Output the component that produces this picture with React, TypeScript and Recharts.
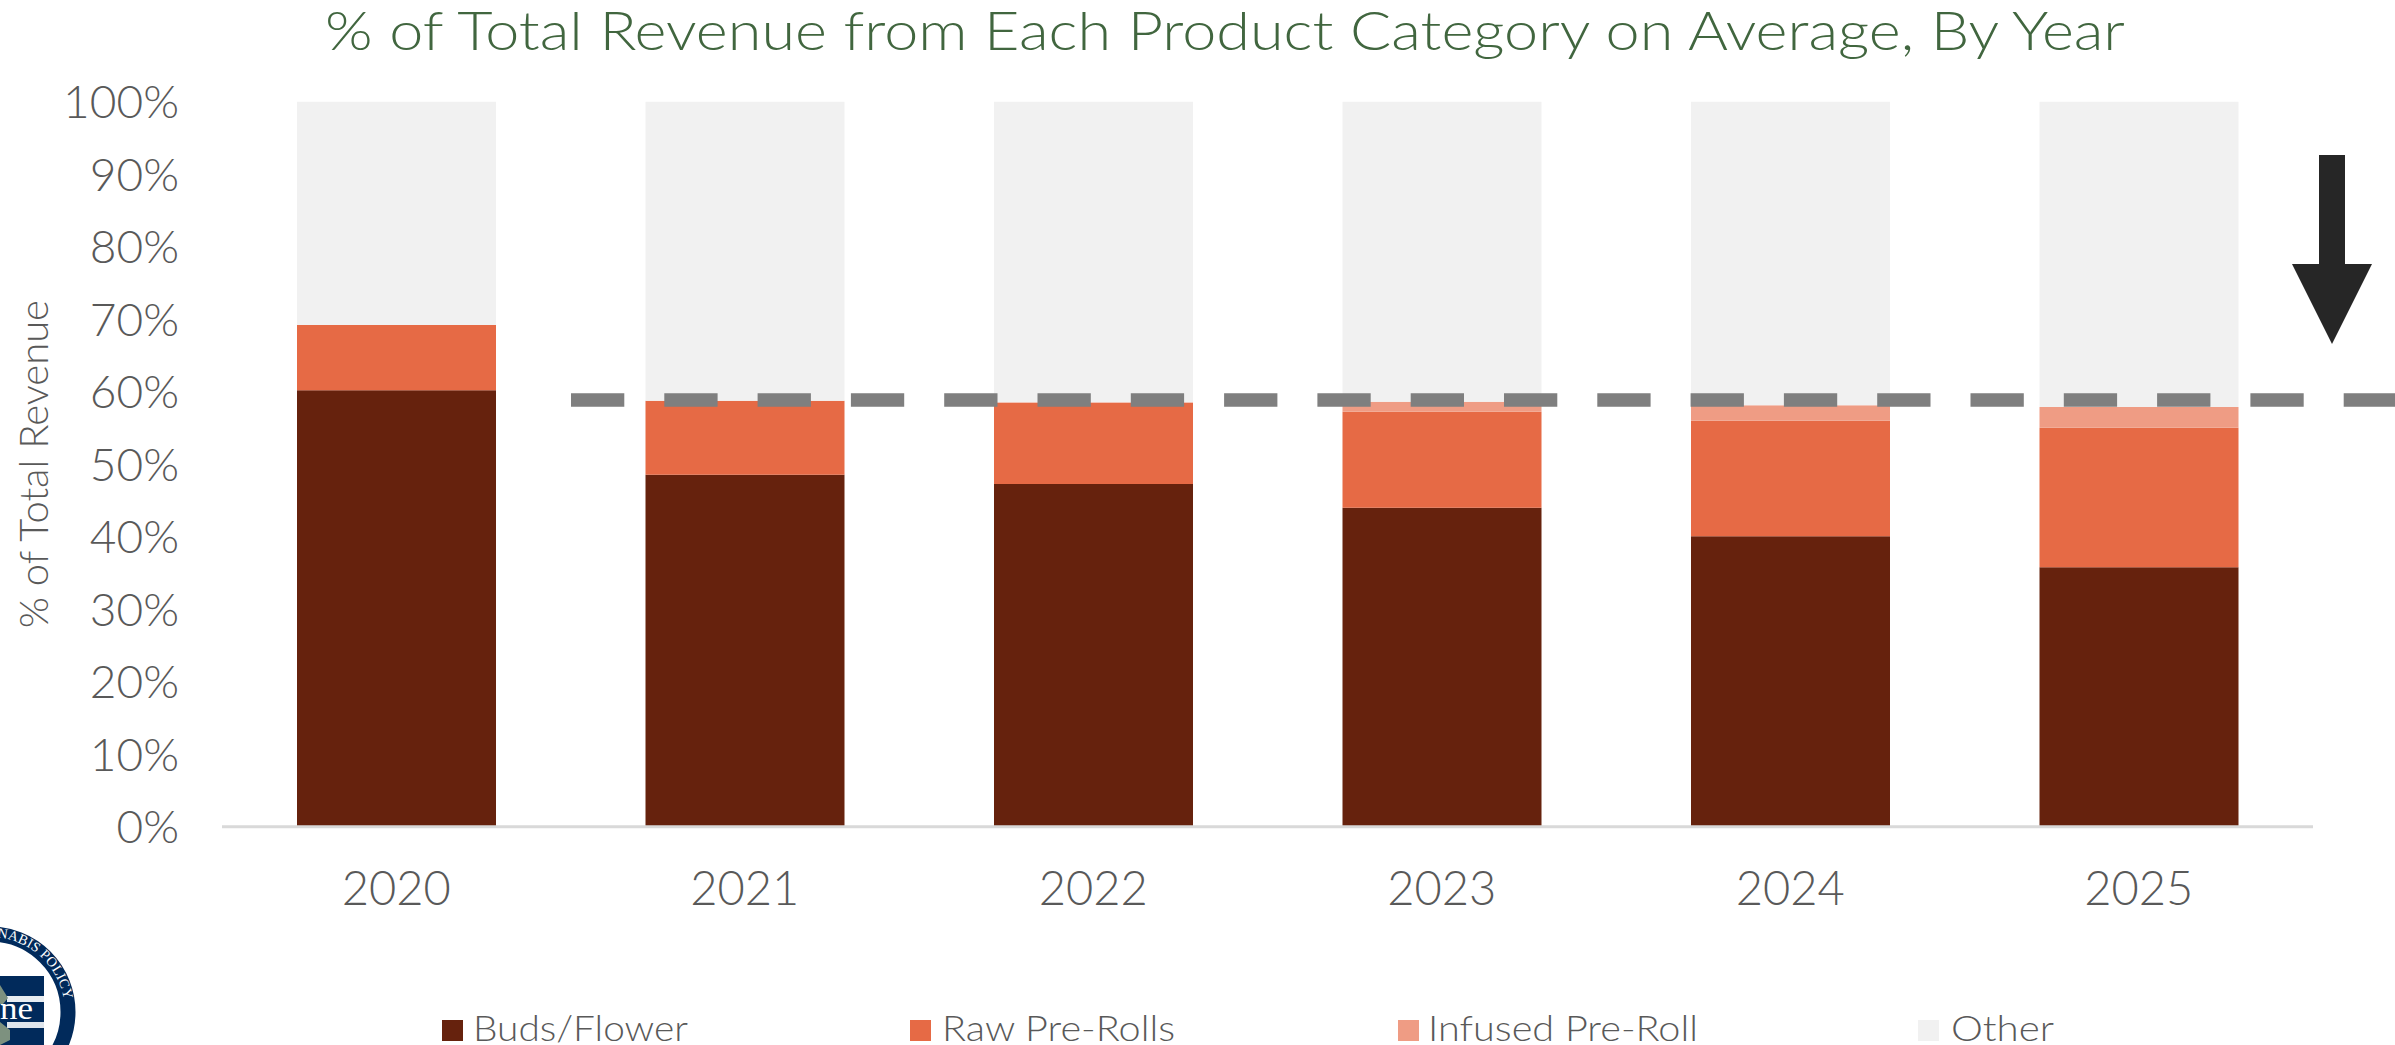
import React from "react";
import { BarChart, Bar, XAxis, YAxis, Legend, ReferenceLine } from "recharts";

const years = ["2020", "2021", "2022", "2023", "2024", "2025"];
const buds = [60.2, 48.55, 47.27, 44.0, 40.05, 35.78];
const rawPreRolls = [9.0, 10.21, 11.17, 13.24, 15.95, 19.25];
const infused = [0, 0, 0.1, 1.38, 2.12, 2.86];
const yTicks = [0, 10, 20, 30, 40, 50, 60, 70, 80, 90, 100];
const thresholdValue = 58.86;

const data = years.map((year, i) => ({
  year,
  buds: buds[i],
  raw: rawPreRolls[i],
  infused: infused[i],
  other: +(100 - buds[i] - rawPreRolls[i] - infused[i]).toFixed(2),
}));

const FONT = "Lato, 'Open Sans', sans-serif";
const TEXT = "#595959";

const legendPos: Record<string, { sq: number; txt: number; w: number }> = {
  "Buds/Flower": { sq: 442, txt: 473, w: 215 },
  "Raw Pre-Rolls": { sq: 910, txt: 942, w: 233 },
  "Infused Pre-Roll": { sq: 1398, txt: 1428, w: 270 },
  Other: { sq: 1918, txt: 1951, w: 103 },
};

const LegendContent = (props: any) => (
  <svg width={2395} height={1045} style={{ display: "block" }}>
    {(props.payload || []).map((p: any) => {
      const pos = legendPos[p.value];
      return (
        <g key={p.value}>
          <rect x={pos.sq} y={1020} width={21} height={21} fill={p.color} />
          <text
            x={pos.txt}
            y={1041}
            fontFamily={FONT}
            fontWeight={300}
            fontSize={36}
            fill={TEXT}
            textLength={pos.w}
            lengthAdjust="spacingAndGlyphs"
          >
            {p.value}
          </text>
        </g>
      );
    })}
  </svg>
);

const DashShape = (props: any) => (
  <line
    x1={571}
    x2={2395}
    y1={props.y1}
    y2={props.y2}
    stroke="#7f7f7f"
    strokeWidth={13.4}
    strokeDasharray="53.3 40"
  />
);

const Overlay = () => (
  <svg
    width={2395}
    height={1045}
    style={{ position: "absolute", left: 0, top: 0, pointerEvents: "none" }}
  >
    <text
      x={325}
      y={50}
      fontFamily={FONT}
      fontWeight={300}
      fontSize={54}
      fill="#41663f"
      textLength={1800}
      lengthAdjust="spacingAndGlyphs"
    >
      % of Total Revenue from Each Product Category on Average, By Year
    </text>
    <polygon
      points="2319,155 2345,155 2345,264 2372,264 2332,344 2292,264 2319,264"
      fill="#262626"
    />
    <defs>
      <path id="ringPath" d="M -85 1012 A 75 75 0 0 1 65 1012" />
    </defs>
    <circle cx={-10} cy={1012} r={78} fill="none" stroke="#012a5b" strokeWidth={15} />
    <rect x={0} y={976} width={44} height={69} fill="#012a5b" />
    <rect x={7} y={996} width={37} height={6} fill="#e8edf2" />
    <rect x={7} y={1022} width={37} height={6} fill="#dfe5ec" />
    <path d="M0 985 L8 998 L3 1004 L0 1004 Z" fill="#7d917f" />
    <path d="M0 1022 L10 1030 L10 1040 L0 1045 Z" fill="#7d917f" />
    <text
      x={0}
      y={1019}
      fontFamily="'Liberation Serif', serif"
      fontSize={31}
      fill="#ffffff"
      textLength={33}
      lengthAdjust="spacingAndGlyphs"
    >
      ne
    </text>
    <text fontFamily="'Liberation Serif', serif" fontSize={14} fill="#ffffff">
      <textPath href="#ringPath" startOffset="53%" textLength={98} lengthAdjust="spacing">
        NABIS POLICY
      </textPath>
    </text>
  </svg>
);

export default function App() {
  return (
    <div style={{ position: "absolute", left: 0, top: 0, width: 2395, height: 1045, overflow: "hidden", background: "#fff" }}>
      <BarChart
        width={2395}
        height={1045}
        data={data}
        barSize={199}
        margin={{ top: 101.7, right: 82, bottom: 158.3, left: 0 }}
      >
        <XAxis
          dataKey="year"
          axisLine={{ stroke: "#d9d9d9", strokeWidth: 3 }}
          tickLine={false}
          tickSize={0}
          tickMargin={45}
          height={60}
          interval={0}
          tick={{ fontFamily: FONT, fontWeight: 300, fontSize: 47, fill: TEXT }}
        />
        <YAxis
          width={222}
          domain={[0, 100]}
          ticks={yTicks}
          interval={0}
          axisLine={false}
          tickLine={false}
          tickSize={0}
          tickMargin={43}
          tickFormatter={(v: number) => `${v}%`}
          tick={{ fontFamily: FONT, fontWeight: 300, fontSize: 46, fill: TEXT }}
          label={{
            value: "% of Total Revenue",
            angle: -90,
            position: "insideLeft",
            offset: 34,
            style: { fontFamily: FONT, fontWeight: 300, fontSize: 40, fill: TEXT, textAnchor: "middle" },
          }}
        />
        <Legend
          layout="horizontal"
          verticalAlign="middle"
          align="center"
          itemSorter={null}
          wrapperStyle={{ position: "absolute", left: 0, top: 0, width: 2395, height: 1045, pointerEvents: "none" }}
          content={LegendContent}
        />
        <Bar dataKey="buds" name="Buds/Flower" stackId="a" fill="#66220d" isAnimationActive={false} />
        <Bar dataKey="raw" name="Raw Pre-Rolls" stackId="a" fill="#e66a45" isAnimationActive={false} />
        <Bar dataKey="infused" name="Infused Pre-Roll" stackId="a" fill="#ef9c84" isAnimationActive={false} />
        <Bar dataKey="other" name="Other" stackId="a" fill="#f1f1f1" isAnimationActive={false} />
        <ReferenceLine y={thresholdValue} ifOverflow="visible" shape={DashShape} />
      </BarChart>
      <Overlay />
    </div>
  );
}
